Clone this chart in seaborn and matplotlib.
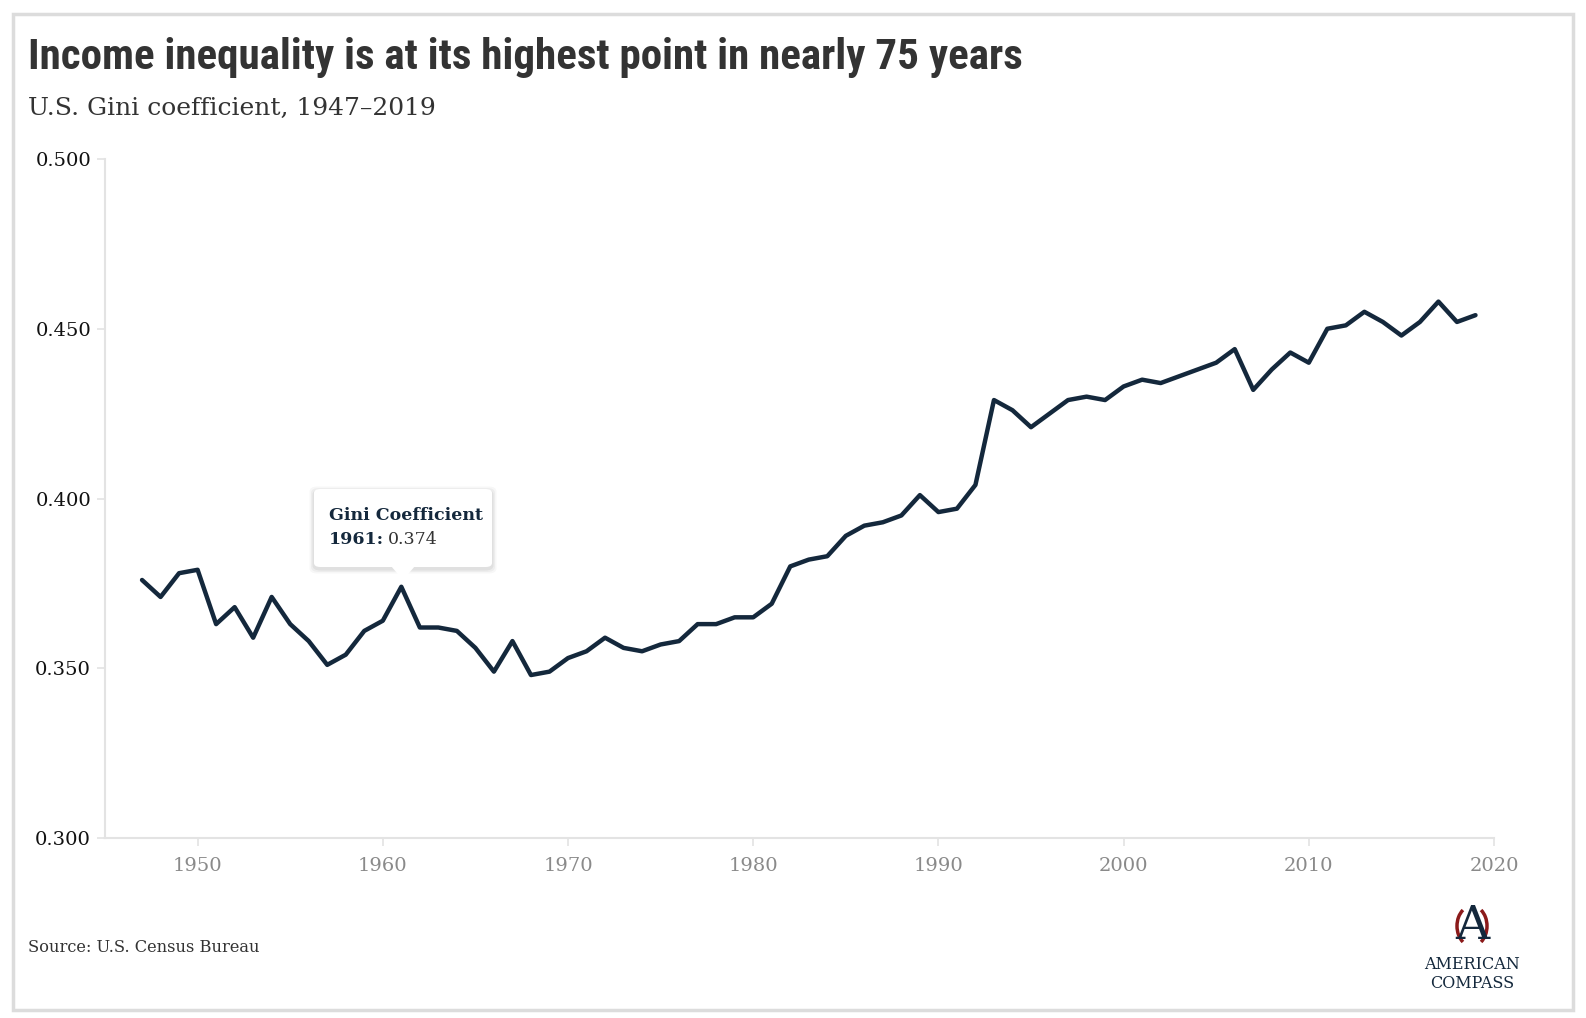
import numpy as np
import pandas as pd
import matplotlib
matplotlib.use("Agg")
import matplotlib.pyplot as plt
import seaborn as sns
from matplotlib import font_manager
from matplotlib.patches import FancyBboxPatch, Polygon, Rectangle, Arc
from matplotlib.text import Annotation

years = list(range(1947, 2020))
gini = [0.376, 0.371, 0.378, 0.379, 0.363, 0.368, 0.359, 0.371, 0.363, 0.358,
        0.351, 0.354, 0.361, 0.364, 0.374, 0.362, 0.362, 0.361, 0.356, 0.349,
        0.358, 0.348, 0.349, 0.353, 0.355, 0.359, 0.356, 0.355, 0.357, 0.358,
        0.363, 0.363, 0.365, 0.365, 0.369, 0.380, 0.382, 0.383, 0.389, 0.392,
        0.393, 0.395, 0.401, 0.396, 0.397, 0.404, 0.429, 0.426, 0.421, 0.425,
        0.429, 0.430, 0.429, 0.433, 0.435, 0.434, 0.436, 0.438, 0.440, 0.444,
        0.432, 0.438, 0.443, 0.440, 0.450, 0.451, 0.455, 0.452, 0.448, 0.452,
        0.458, 0.452, 0.454]
x_ticks = [1950, 1960, 1970, 1980, 1990, 2000, 2010, 2020]
y_ticks = [0.300, 0.350, 0.400, 0.450, 0.500]

df = pd.DataFrame({"year": years, "gini": gini})

sns.set_theme(style="white")
serif = ["DejaVu Serif"]
navy = "#14283c"
grid_grey = "#e3e3e3"

# condensed headline font if there is one
installed = {f.name for f in font_manager.fontManager.ttflist}
if "Roboto Condensed" in installed:
    head_font, head_size = ["Roboto Condensed"], 31
else:
    head_font, head_size = ["DejaVu Sans"], 22.5

fig = plt.figure(figsize=(15.86, 10.18), dpi=100)
ax = fig.add_axes([105 / 1586, 1 - 838 / 1018, (1494 - 105) / 1586, (838 - 159) / 1018])

sns.lineplot(data=df, x="year", y="gini", ax=ax, color=navy, linewidth=3.2)

ax.set_xlim(1945, 2020)
ax.set_ylim(0.3, 0.5)
ax.set_xticks(x_ticks)
ax.set_yticks(y_ticks)
ax.set_xticklabels([str(t) for t in x_ticks], fontfamily=serif, fontsize=14, color="#8a8a8a")
ax.set_yticklabels([f"{t:.3f}" for t in y_ticks], fontfamily=serif, fontsize=14, color="#111111")
ax.set_xlabel("")
ax.set_ylabel("")
for s in ["top", "right"]:
    ax.spines[s].set_visible(False)
for s in ["left", "bottom"]:
    ax.spines[s].set_color(grid_grey)
    ax.spines[s].set_linewidth(1.5)
ax.tick_params(axis="x", length=6, width=1.2, color=grid_grey, pad=8, bottom=True)
ax.tick_params(axis="y", length=6, width=1.2, color=grid_grey, pad=4, left=True)
ax.patch.set_alpha(0)

# tooltip at 1961
ty, tv = 1961, gini[years.index(1961)]
bx, by, bw, bh = 314 / 1586, 1 - 567 / 1018, 178 / 1586, 78 / 1018
for i, a in enumerate([0.05, 0.04, 0.03]):
    d = (i + 1) * 1.5
    fig.patches.append(FancyBboxPatch((bx - d / 1586, by - (d + 2) / 1018), bw + 2 * d / 1586, bh + 2 * d / 1018,
                                      boxstyle="round,pad=0,rounding_size=0.005",
                                      transform=fig.transFigure, facecolor="black",
                                      edgecolor="none", alpha=a, zorder=4))
fig.patches.append(FancyBboxPatch((bx, by), bw, bh,
                                  boxstyle="round,pad=0,rounding_size=0.004",
                                  transform=fig.transFigure, facecolor="white",
                                  edgecolor="none", zorder=5))
fig.patches.append(Polygon([(391 / 1586, 1 - 566 / 1018), (415 / 1586, 1 - 566 / 1018),
                            (403 / 1586, 1 - 580 / 1018)], closed=True,
                           transform=fig.transFigure, facecolor="white",
                           edgecolor="none", zorder=6))
fig.text(329 / 1586, 1 - 515 / 1018, "Gini Coefficient", fontfamily=serif,
         fontsize=12.5, fontweight="bold", color=navy, va="center", zorder=7)
t1 = fig.text(329 / 1586, 1 - 540 / 1018, f"{ty}:", fontfamily=serif,
              fontsize=12.5, fontweight="bold", color=navy, va="center", zorder=7)
val = Annotation(f"{tv:.3f}", xy=(1, 0.5), xycoords=t1, xytext=(3, 0),
                 textcoords="offset points", fontfamily=serif, fontsize=12.5,
                 color="#333333", va="center", ha="left")
val.set_zorder(7)
fig.add_artist(val)

# titles
fig.text(28 / 1586, 1 - 57 / 1018, "Income inequality is at its highest point in nearly 75 years",
         fontfamily=head_font, fontsize=head_size, fontweight="bold",
         color="#333333", va="center")
fig.text(28 / 1586, 1 - 108 / 1018, "U.S. Gini coefficient, 1947\u20132019",
         fontfamily=serif, fontsize=18, color="#333333", va="center")
fig.text(28 / 1586, 1 - 948 / 1018, "Source: U.S. Census Bureau",
         fontfamily=serif, fontsize=11.7, color="#333333", va="center")

# logo
lx, ly = 1472 / 1586, 1 - 926 / 1018
fig.patches.append(Arc((lx, ly), 30 / 1586, 40 / 1018, theta1=110, theta2=250,
                       transform=fig.transFigure, color="#8b1a1a", linewidth=2.5))
fig.patches.append(Arc((lx, ly), 30 / 1586, 40 / 1018, theta1=-70, theta2=70,
                       transform=fig.transFigure, color="#8b1a1a", linewidth=2.5))
fig.text(lx, ly, "A", fontfamily=serif, fontsize=34,
         color=navy, ha="center", va="center")
fig.text(lx, 1 - 974 / 1018, "AMERICAN\nCOMPASS", fontfamily=serif,
         fontsize=11.5, color=navy, ha="center", va="center", linespacing=1.1)

# outer frame
fig.patches.append(Rectangle((13 / 1586, 8 / 1018), 1560 / 1586, 996 / 1018,
                             transform=fig.transFigure, fill=False,
                             edgecolor="#dcdcdc", linewidth=2.5))

fig.savefig("out.png", dpi=100)
